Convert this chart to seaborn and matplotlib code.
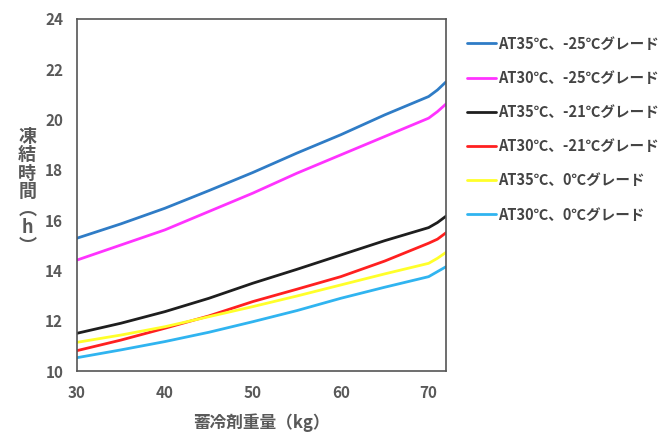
import numpy as np
import pandas as pd
import matplotlib
matplotlib.use("Agg")
import matplotlib.pyplot as plt
import seaborn as sns

# Data
weight = [30, 35, 40, 45, 50, 55, 60, 65, 70, 71, 72]
at35_m25 = [15.28, 15.85, 16.47, 17.17, 17.89, 18.66, 19.39, 20.18, 20.91, 21.17, 21.50]
at30_m25 = [14.41, 15.01, 15.61, 16.34, 17.07, 17.86, 18.59, 19.32, 20.05, 20.31, 20.62]
at35_m21 = [11.50, 11.90, 12.36, 12.89, 13.49, 14.04, 14.61, 15.18, 15.70, 15.90, 16.16]
at30_m21 = [10.81, 11.23, 11.70, 12.19, 12.76, 13.25, 13.75, 14.37, 15.08, 15.24, 15.50]
at35_0 = [11.14, 11.43, 11.76, 12.16, 12.56, 12.98, 13.42, 13.86, 14.28, 14.48, 14.72]
at30_0 = [10.53, 10.84, 11.17, 11.54, 11.96, 12.40, 12.89, 13.33, 13.75, 13.95, 14.15]

labels = ["AT35℃、-25℃グレード", "AT30℃、-25℃グレード", "AT35℃、-21℃グレード",
          "AT30℃、-21℃グレード", "AT35℃、0℃グレード", "AT30℃、0℃グレード"]
colors = ["#2f7cc6", "#ff33ff", "#1e1e1e", "#ff2020", "#ffff2a", "#30b4f0"]
series = [at35_m25, at30_m25, at35_m21, at30_m21, at35_0, at30_0]

df = pd.concat([pd.DataFrame({"weight": weight, "time": s, "grade": lab})
                for s, lab in zip(series, labels)], ignore_index=True)

sns.set_style("white")
plt.rcParams['font.family'] = ['Noto Sans CJK JP', 'DejaVu Sans']
plt.rcParams['font.weight'] = 'bold'
gray = "#595959"

fig = plt.figure(figsize=(6.64, 4.37), dpi=100)
ax = fig.add_axes([0.116, 0.151, 0.556, 0.806])

sns.lineplot(data=df, x="weight", y="time", hue="grade", palette=colors,
             hue_order=labels, linewidth=2, ax=ax)

ax.set_xlim(30, 72)
ax.set_ylim(10, 24)
ax.set_xticks([30, 40, 50, 60, 70])
ax.set_yticks(range(10, 25, 2))
ax.tick_params(direction="in", length=4, colors=gray, labelsize=11, pad=10)
for lab in ax.get_xticklabels() + ax.get_yticklabels():
    lab.set_fontweight("bold")
for sp in ax.spines.values():
    sp.set_color("#555555")
    sp.set_linewidth(1.2)

ax.set_xlabel("蓄冷剤重量（kg）", color=gray, fontsize=12, fontweight="bold", labelpad=9)
ax.set_ylabel("凍\n結\n時\n間\n︵\nh\n︶", rotation=0, color=gray, fontsize=13,
              fontweight="bold", va="center", labelpad=14, linespacing=0.95)
ax.yaxis.set_label_coords(-0.135, 0.51)

leg = ax.legend(loc="upper left", bbox_to_anchor=(1.02, 0.99), frameon=False,
                handlelength=2.0, handletextpad=0.15, labelspacing=1.25, fontsize=10.5)
for t in leg.get_texts():
    t.set_color("#444444")
    t.set_fontweight("bold")
for h in leg.get_lines():
    h.set_linewidth(2)

plt.savefig("out.png", dpi=100)
